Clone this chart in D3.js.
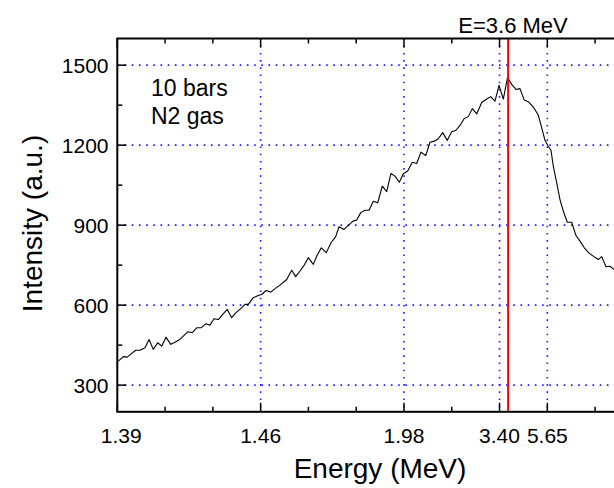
<!DOCTYPE html>
<html>
<head>
<meta charset="utf-8">
<script src="https://cdn.jsdelivr.net/npm/d3@7"></script>
<style>
  html, body { margin: 0; padding: 0; background: #fff; }
  svg { display: block; font-family: "Liberation Sans", Arial, sans-serif; }
</style>
</head>
<body>
<svg id="chart" width="614" height="488"></svg>
<script>
// ---- data (channel position along the detector axis, intensity in a.u.) ----
const channel = [
  0.021,0.126,0.209,0.301,0.385,0.475,0.580,0.664,0.753,0.846,
  0.929,1.019,1.118,1.208,1.291,1.381,1.473,1.570,1.662,1.752,
  1.850,1.940,2.024,2.114,2.206,2.302,2.394,2.484,2.583,2.673,
  2.742,2.846,2.951,3.022,3.112,3.211,3.301,3.405,3.545,3.650,
  3.734,3.824,3.908,3.997,4.102,4.180,4.270,4.374,4.473,4.571,
  4.640,4.745,4.835,4.933,5.011,5.094,5.184,5.268,5.358,5.450,
  5.546,5.638,5.728,5.812,5.902,5.986,6.078,6.174,6.266,6.356,
  6.455,6.545,6.635,6.719,6.810,6.907,6.999,7.083,7.172,7.262,
  7.346,7.430,7.522,7.627,7.717,7.815,7.905,7.989,8.079,8.167,
  8.254,8.345,8.428,8.518,8.602,8.707,8.811,8.882,8.951,9.021,
  9.077,9.125,9.196,9.265,9.334,9.418,9.510,9.600,9.684,9.774,
  9.879,9.977,10.067,10.138,10.228,10.312,10.396,10.480
];
const intensity = [
  390,407,405,419,431,431,440,471,434,459,
  446,480,453,461,469,484,500,497,515,515,
  530,525,549,546,565,584,553,572,587,603,
  603,628,636,640,655,649,662,675,696,731,
  707,728,749,778,753,786,815,797,834,857,
  894,884,899,915,919,947,956,956,990,984,
  1046,1026,1094,1084,1061,1093,1103,1136,1131,1174,
  1161,1211,1215,1224,1247,1218,1250,1255,1274,1300,
  1307,1337,1317,1360,1371,1382,1365,1424,1373,1453,
  1428,1409,1412,1369,1363,1343,1313,1266,1218,1195,
  1181,1121,1059,996,953,911,911,861,840,815,
  794,782,771,782,744,746,734,730
];

// x-axis: one tick per channel unit, energy labels on some of them
const xTickPositions = [0,1,2,3,4,5,6,7,8,9,10];
const xTickLabels    = ["1.39","","","1.46","","","1.98","","3.40","5.65",""];
const xGridPositions = [3,6,8,9];

const yMajorTicks = [300,600,900,1200,1500];
const yMinorTicks = [450,750,1050,1350];

const markerChannel = 8.18;
const markerLabel = "E=3.6 MeV";
const noteLines = ["10 bars","N2 gas"];
const xTitle = "Energy (MeV)";
const yTitle = "Intensity (a.u.)";

// ---- layout ----
const svg = d3.select("#chart");
const pLeft = 117.3, pTop = 38.5, pBottom = 411.8;
const x = d3.scaleLinear().domain([0, 10.6]).range([pLeft, pLeft + 10.6 * 47.78]);
const y = d3.scaleLinear().domain([200, 1600]).range([pBottom, pTop]);
const pRight = x(10.6);

const gridColor = "#1a1aff";

// grid lines
svg.append("g").selectAll("line").data(yMajorTicks).join("line")
  .attr("x1", pLeft).attr("x2", pRight)
  .attr("y1", d => y(d)).attr("y2", d => y(d))
  .attr("stroke", gridColor).attr("stroke-width", 1.6)
  .attr("stroke-dasharray", "1.6,5.6");
svg.append("g").selectAll("line").data(xGridPositions).join("line")
  .attr("x1", d => x(d)).attr("x2", d => x(d))
  .attr("y1", pTop).attr("y2", pBottom)
  .attr("stroke", gridColor).attr("stroke-width", 1.6)
  .attr("stroke-dasharray", "1.6,5.6");

// spectrum
const pts = channel.map((c, i) => [c, intensity[i]]);
svg.append("path")
  .datum(pts)
  .attr("fill", "none")
  .attr("stroke", "#000")
  .attr("stroke-width", 1.1)
  .attr("stroke-linejoin", "round")
  .attr("d", d3.line().x(d => x(d[0])).y(d => y(d[1])));

// marker line
svg.append("line")
  .attr("x1", x(markerChannel)).attr("x2", x(markerChannel))
  .attr("y1", pTop).attr("y2", pBottom)
  .attr("stroke", "#ff0000").attr("stroke-width", 2);

// axes
const axisG = svg.append("g");
const tickSize = (i) => (xTickLabels[i] ? 9 : 5);
axisG.selectAll(".xb").data(xTickPositions).join("line")
  .attr("x1", d => x(d)).attr("x2", d => x(d))
  .attr("y1", pBottom).attr("y2", (d, i) => pBottom - tickSize(i))
  .attr("stroke", "#000").attr("stroke-width", 1.5);
axisG.selectAll(".xt").data(xTickPositions).join("line")
  .attr("x1", d => x(d)).attr("x2", d => x(d))
  .attr("y1", pTop).attr("y2", (d, i) => pTop + tickSize(i))
  .attr("stroke", "#000").attr("stroke-width", 1.5);
axisG.selectAll(".ym").data(yMajorTicks).join("line")
  .attr("x1", pLeft).attr("x2", pLeft + 9)
  .attr("y1", d => y(d)).attr("y2", d => y(d))
  .attr("stroke", "#000").attr("stroke-width", 1.5);
axisG.selectAll(".yn").data(yMinorTicks).join("line")
  .attr("x1", pLeft).attr("x2", pLeft + 5)
  .attr("y1", d => y(d)).attr("y2", d => y(d))
  .attr("stroke", "#000").attr("stroke-width", 1.5);
axisG.append("rect")
  .attr("x", pLeft).attr("y", pTop)
  .attr("width", pRight - pLeft).attr("height", pBottom - pTop)
  .attr("fill", "none").attr("stroke", "#000").attr("stroke-width", 2);

// tick labels
svg.append("g").selectAll("text").data(xTickPositions.filter((d, i) => xTickLabels[i]))
  .join("text")
  .attr("x", (d) => x(d) + (d === 0 ? 4 : 0))
  .attr("y", 443)
  .attr("text-anchor", "middle")
  .attr("font-size", 21)
  .text(d => xTickLabels[xTickPositions.indexOf(d)]);
svg.append("g").selectAll("text").data(yMajorTicks).join("text")
  .attr("x", 108.5)
  .attr("y", d => y(d))
  .attr("dy", "0.36em")
  .attr("text-anchor", "end")
  .attr("font-size", 21)
  .text(d => d);

// titles
svg.append("text")
  .attr("x", 380).attr("y", 478)
  .attr("text-anchor", "middle")
  .attr("font-size", 28)
  .text(xTitle);
svg.append("text")
  .attr("transform", "translate(42,223.5) rotate(-90)")
  .attr("text-anchor", "middle")
  .attr("font-size", 28)
  .text(yTitle);

// annotations
svg.append("text")
  .attr("x", 513).attr("y", 33)
  .attr("text-anchor", "middle")
  .attr("font-size", 22)
  .text(markerLabel);
svg.append("g").selectAll("text").data(noteLines).join("text")
  .attr("x", 151)
  .attr("y", (d, i) => 95.7 + i * 28.5)
  .attr("font-size", 23)
  .text(d => d);
</script>
</body>
</html>
